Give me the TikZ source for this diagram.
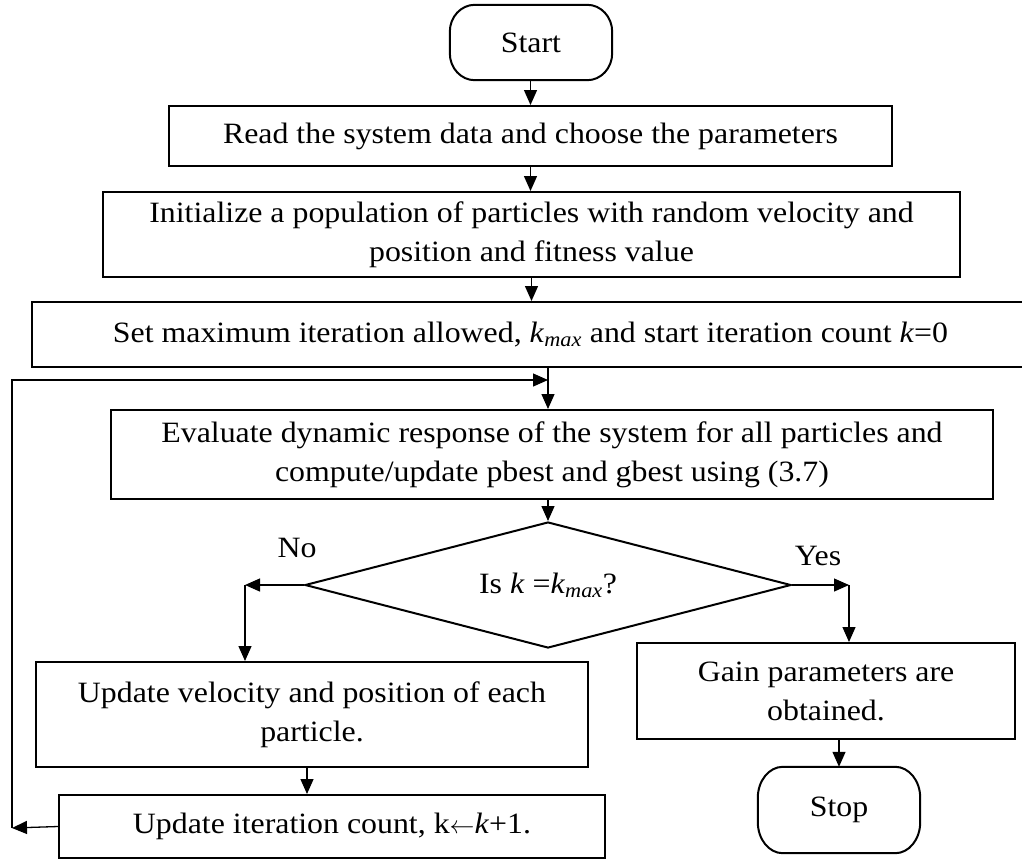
\documentclass[tikz,border=0pt]{standalone}
\usepackage{fontspec}
\setmainfont{Liberation Serif}[FakeStretch=1.08]
\usetikzlibrary{arrows.meta,shapes.geometric}
\begin{document}
\begin{tikzpicture}[x=1pt,y=-1pt,
  txt/.style={font=\fontsize{29.5}{39}\selectfont},
  box/.style={txt,draw,line width=2pt,inner sep=0pt,align=center},
  term/.style={txt,inner sep=0pt,align=center},
  edge/.style={line width=2pt},
  decision/.style={txt,draw,line width=2pt,diamond,inner sep=0pt,aspect=3.86},
  arr/.style={line width=1.3pt,-{Triangle[length=15pt,width=13pt]}}]
\useasboundingbox (0,0) rectangle (1022,863);
\node[term,minimum width=162pt,minimum height=75pt] (start) at (531,42.5) {Start};
\node[box,minimum width=723pt,minimum height=60pt] (read) at (530.5,136) {Read the system data and choose the parameters};
\node[box,minimum width=857pt,minimum height=85pt] (init) at (531.5,234.5) {Initialize a population of particles with random velocity and\\position and fitness value};
\node[box,minimum width=997pt,minimum height=65pt] (set) at (530.5,334.5) {Set maximum iteration allowed, \textit{k}\textsubscript{\textit{max}} and start iteration count \textit{k}=0};
\node[box,minimum width=882pt,minimum height=89pt] (eval) at (552,454.5) {Evaluate dynamic response of the system for all particles and\\compute/update pbest and gbest using (3.7)};
\node[decision,minimum width=486pt,minimum height=126pt] (dec) at (548,585) {Is \textit{k} =\textit{k}\textsubscript{\textit{max}}?};
\node[box,minimum width=552pt,minimum height=105pt] (upd) at (312,714.5) {Update velocity and position of each\\particle.};
\node[box,minimum width=546pt,minimum height=63pt] (iter) at (332,826.5) {Update iteration count, k$\leftarrow$\textit{k}+1.};
\node[box,minimum width=378pt,minimum height=96pt] (gain) at (826,691) {Gain parameters are\\obtained.};
\node[term,minimum width=162pt,minimum height=86pt] (stop) at (839,810) {Stop};
\node[txt] (no) at (297,548) {No};
\node[txt] (yes) at (818,556) {Yes};
% terminator outlines
\foreach \n/\ry in {start/27,stop/31}{
  \draw[edge] ([xshift=25pt]\n.north west) -- ([xshift=-25pt]\n.north east)
    arc[start angle=90,end angle=0,x radius=25pt,y radius=\ry pt]
    -- ([yshift=\ry pt]\n.south east)
    arc[start angle=0,end angle=-90,x radius=25pt,y radius=\ry pt]
    -- ([xshift=25pt]\n.south west)
    arc[start angle=270,end angle=180,x radius=25pt,y radius=\ry pt]
    -- ([yshift=-\ry pt]\n.north west)
    arc[start angle=180,end angle=90,x radius=25pt,y radius=\ry pt] -- cycle;
}
\coordinate (lb) at (12,828);
\coordinate (lt) at (12,380);
\coordinate (nl) at (245,585);
\coordinate (ny) at (849,585);
\draw[arr] (start.south -| read.north) -- (read.north);
\draw[arr] (read.south) -- (read.south |- init.north);
\draw[arr] (init.south) -- (init.south |- set.north);
\draw[arr] (set.south -| dec.north) -- (eval.north -| dec.north);
\draw[arr] (lb) -- (lt) -- (lt -| dec.north);
\draw[arr] (eval.south -| dec.north) -- (dec.north);
\draw[arr] (dec.west) -- (nl);
\draw[arr] (nl) -- (nl |- upd.north);
\draw[arr] (dec.east) -- (ny);
\draw[arr] (ny) -- (ny |- gain.north);
\draw[arr] ([xshift=-5pt]upd.south) -- ([xshift=-5pt]upd.south |- iter.north);
\draw[arr] (gain.south -| stop.north) -- (stop.north);
\draw[arr] (iter.west) -- (lb);
\end{tikzpicture}
\end{document}
